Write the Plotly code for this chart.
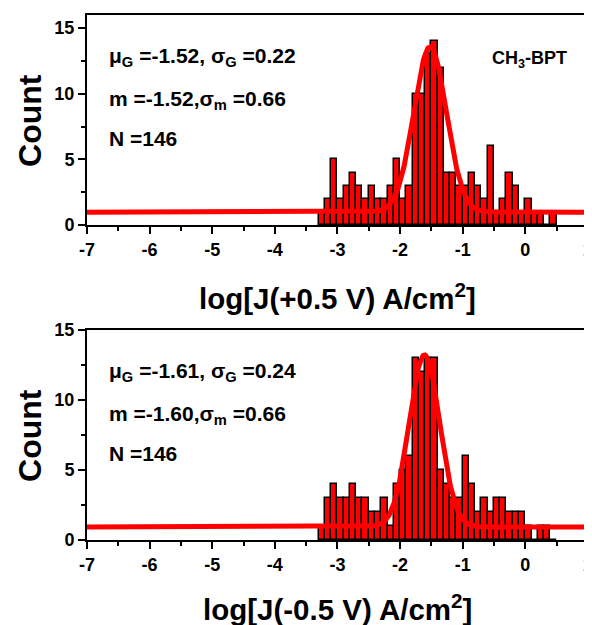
import numpy as np
import plotly.graph_objects as go
from plotly.subplots import make_subplots

# ---- data ----
bin_left = [round(-3.3 + 0.1 * i, 1) for i in range(38)]
counts_pos = [1, 2, 5, 2, 3, 4, 3, 2, 3, 2, 2, 3, 5, 2, 3, 10, 10, 13, 14,
              12, 4, 4, 3, 3, 4, 3, 2, 6, 1, 2, 4, 3, 1, 2, 1, 1, 0, 1]
counts_neg = [1, 3, 4, 3, 3, 4, 3, 3, 2, 2, 3, 1, 4, 5, 6, 13, 12, 13, 13,
              5, 4, 3, 3, 6, 4, 2, 3, 2, 3, 3, 2, 2, 2, 1, 0, 1, 1, 0]
bin_width = 0.1

fit_pos = dict(y0=0.98, A=12.6, xc=-1.52, sigma=0.26)
fit_neg = dict(y0=0.93, A=12.3, xc=-1.61, sigma=0.245)

x_ticks = [-7, -6, -5, -4, -3, -2, -1, 0, 1]
y_ticks = [0, 5, 10, 15]

xtitle_pos = "log[J(+0.5 V) A/cm<sup>2</sup>]"
xtitle_neg = "log[J(-0.5 V) A/cm<sup>2</sup>]"
stats_pos = ["μ<sub>G</sub> =-1.52, σ<sub>G</sub> =0.22", "m =-1.52,σ<sub>m</sub> =0.66", "N =146"]
stats_neg = ["μ<sub>G</sub> =-1.61, σ<sub>G</sub> =0.24", "m =-1.60,σ<sub>m</sub> =0.66", "N =146"]
label = "CH<sub>3</sub>-BPT"

FONT = "Arial, Liberation Sans, sans-serif"

fig = make_subplots(rows=2, cols=1, vertical_spacing=0.2)

xfit = np.linspace(-7, 1, 801)

def gauss(p):
    return p["y0"] + p["A"] * np.exp(-(xfit - p["xc"]) ** 2 / (2 * p["sigma"] ** 2))

for row, counts, fit in [(1, counts_pos, fit_pos), (2, counts_neg, fit_neg)]:
    centers = [b + bin_width / 2 for b in bin_left]
    fig.add_trace(go.Bar(x=centers, y=counts, width=bin_width,
                         marker=dict(color="#ff0000", line=dict(color="black", width=1.5)),
                         showlegend=False), row=row, col=1)
    fig.add_trace(go.Scatter(x=xfit, y=gauss(fit), mode="lines",
                             line=dict(color="#ff0000", width=5),
                             showlegend=False), row=row, col=1)

axis_common = dict(showline=True, linecolor="black", linewidth=2, mirror=True,
                   ticks="outside", ticklen=7, tickwidth=2, tickcolor="black",
                   showgrid=False, zeroline=False, automargin=False,
                   tickfont=dict(family=FONT, size=18, color="black"))

minor_x = dict(dtick=0.5, tick0=-7, ticks="outside", ticklen=4, tickwidth=2, tickcolor="black")
minor_y = dict(dtick=2.5, tick0=0, ticks="outside", ticklen=4, tickwidth=2, tickcolor="black")

for row in (1, 2):
    fig.update_xaxes(range=[-7, 1.002], tickvals=x_ticks,
                     ticktext=["<b>%d</b>" % v for v in x_ticks],
                     minor=minor_x, row=row, col=1, **axis_common)
fig.update_yaxes(range=[0, 16], tickvals=y_ticks,
                 ticktext=["<b>%d</b>" % v for v in y_ticks],
                 minor=minor_y, row=1, col=1, **axis_common)
fig.update_yaxes(range=[0, 15.01], tickvals=y_ticks,
                 ticktext=["<b>%d</b>" % v for v in y_ticks],
                 minor=minor_y, row=2, col=1, **axis_common)

fig.update_layout(
    width=592, height=625,
    margin=dict(l=79, r=12, t=7, b=93, autoexpand=False),
    plot_bgcolor="white", paper_bgcolor="white",
    bargap=0,
    xaxis=dict(domain=[0, 1]), yaxis=dict(domain=[0.6, 1.0]),
    xaxis2=dict(domain=[0, 1]), yaxis2=dict(domain=[0.0, 0.4]),
)

ann = []
stat_y = [0.80, 0.595, 0.414]
for (xr, yr, stats) in [("x domain", "y domain", stats_pos), ("x2 domain", "y2 domain", stats_neg)]:
    for t, yy in zip(stats, stat_y):
        ann.append(dict(text="<b>" + t + "</b>", x=0.04, y=yy, xref=xr, yref=yr,
                        xanchor="left", yanchor="middle", showarrow=False,
                        font=dict(family=FONT, size=21, color="black")))
ann.append(dict(text="<b>" + label + "</b>", x=0.884, y=0.786, xref="x domain", yref="y domain",
                xanchor="center", yanchor="middle", showarrow=False,
                font=dict(family=FONT, size=18, color="black")))
# axis titles
ann.append(dict(text="<b>" + xtitle_pos + "</b>", x=0.5, y=0.463, xref="paper", yref="paper",
                xanchor="center", yanchor="middle", showarrow=False,
                font=dict(family=FONT, size=29.5, color="black")))
ann.append(dict(text="<b>" + xtitle_neg + "</b>", x=0.5, y=-0.128, xref="paper", yref="paper",
                xanchor="center", yanchor="middle", showarrow=False,
                font=dict(family=FONT, size=29.5, color="black")))
for yy in (0.8, 0.2):
    ann.append(dict(text="<b>Count</b>", x=-0.114, y=yy, xref="paper", yref="paper",
                    xanchor="center", yanchor="middle", showarrow=False, textangle=-90,
                    font=dict(family=FONT, size=32, color="black")))
fig.update_layout(annotations=ann)

fig.write_html("out.html")
